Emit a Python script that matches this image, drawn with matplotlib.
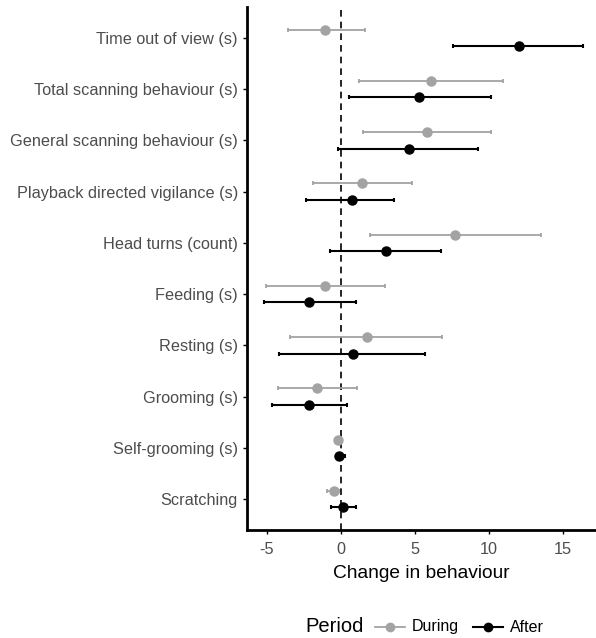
import numpy as np
import matplotlib.pyplot as plt
from matplotlib.lines import Line2D

behaviours = ["Time out of view (s)", "Total scanning behaviour (s)",
              "General scanning behaviour (s)", "Playback directed vigilance (s)",
              "Head turns (count)", "Feeding (s)", "Resting (s)", "Grooming (s)",
              "Self-grooming (s)", "Scratching"]

during_est = [-1.05, 6.09, 5.85, 1.46, 7.74, -1.07, 1.77, -1.61, -0.19, -0.44]
during_lo = [-3.59, 1.25, 1.52, -1.90, 1.97, -5.05, -3.43, -4.22, -0.35, -0.91]
during_hi = [1.66, 10.98, 10.17, 4.79, 13.50, 2.99, 6.84, 1.09, -0.03, -0.12]

after_est = [12.04, 5.31, 4.61, 0.73, 3.05, -2.15, 0.82, -2.15, -0.10, 0.17]
after_lo = [7.60, 0.53, -0.21, -2.33, -0.71, -5.21, -4.15, -4.67, -0.32, -0.66]
after_hi = [16.34, 10.17, 9.29, 3.62, 6.77, 1.03, 5.69, 0.40, 0.30, 1.03]

grey = "#a3a3a3"
txt = "#4d4d4d"
plt.rcParams['font.family'] = ['Liberation Sans', 'DejaVu Sans']

fig = plt.figure(figsize=(5.96, 6.38), dpi=100)
ax = fig.add_axes([0.4144, 0.1693, 0.5856, 0.8197])

ypos = np.arange(len(behaviours))[::-1] + 1.0
dodge = 0.16

def draw(est, lo, hi, off, col, lw):
    est = np.array(est)
    err = [est - np.array(lo), np.array(hi) - est]
    ax.errorbar(est, ypos + off, xerr=err, fmt='o', color=col, ecolor=col,
                elinewidth=lw, capsize=1.5, capthick=lw, markersize=6.5, zorder=3)

draw(during_est, during_lo, during_hi, dodge, grey, 1.3)
draw(after_est, after_lo, after_hi, -dodge, "black", 1.5)

ax.axvline(0, color="black", linestyle=(0, (4, 3)), linewidth=1.2, zorder=2)

ax.set_xlim(-6.34, 17.24)
ax.set_ylim(0.4, 10.6)
ax.set_yticks(ypos)
ax.set_yticklabels(behaviours)
ax.set_xticks([-5, 0, 5, 10, 15])
ax.set_xticklabels(["-5", "0", "5", "10", "15"])
ax.tick_params(axis='both', colors="black", labelcolor=txt, labelsize=11.7,
               length=3, width=1)
ax.tick_params(axis='x', pad=5.5)
for s in ["top", "right"]:
    ax.spines[s].set_visible(False)
for s in ["left", "bottom"]:
    ax.spines[s].set_linewidth(2)
ax.set_xlabel("Change in behaviour", fontsize=13.8, color="black", labelpad=6)

# legend laid out in one row like ggplot (title beside keys)
ly = 1 - 627 / 638
fig.text(305 / 596, ly, "Period", fontsize=14.5, va="center", ha="left")
for x0, col, lw, label in [(375, grey, 1.3, "During"), (473, "black", 1.5, "After")]:
    fig.add_artist(Line2D([x0 / 596, (x0 + 30) / 596], [ly, ly], color=col, lw=lw,
                          transform=fig.transFigure))
    fig.add_artist(Line2D([(x0 + 15) / 596], [ly], color=col, marker='o', markersize=6,
                          transform=fig.transFigure))
    fig.text((x0 + 37) / 596, ly, label, fontsize=11.5, va="center", ha="left")

fig.savefig("out.png", dpi=100)
